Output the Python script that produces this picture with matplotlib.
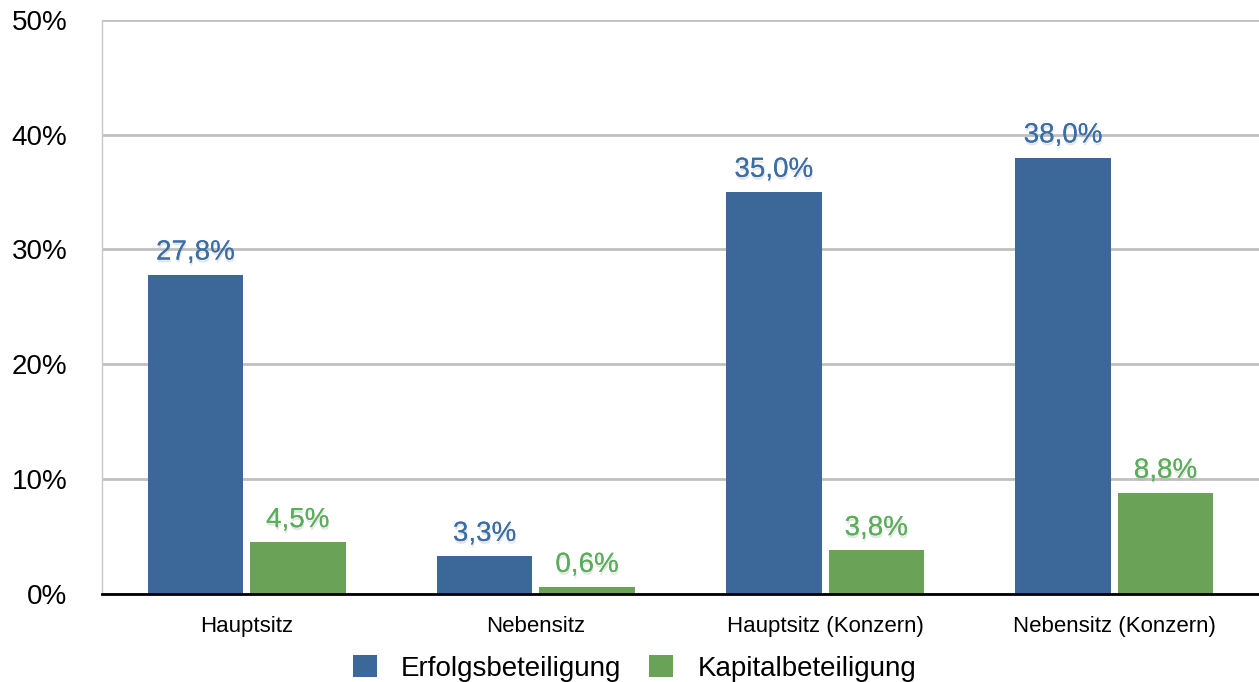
import matplotlib
matplotlib.use("Agg")
import matplotlib.pyplot as plt
import matplotlib.patheffects as pe
import numpy as np

categories = ["Hauptsitz", "Nebensitz", "Hauptsitz (Konzern)", "Nebensitz (Konzern)"]
erfolg = [27.8, 3.3, 35.0, 38.0]
kapital = [4.5, 0.6, 3.8, 8.8]
series_names = ["Erfolgsbeteiligung", "Kapitalbeteiligung"]
yticks = [0, 10, 20, 30, 40, 50]

blue = "#3b6898"
green = "#6aa358"
blue_txt = "#3a6ea6"
green_txt = "#5aae5a"

plt.rcParams["font.family"] = ["Liberation Sans", "DejaVu Sans"]

fig = plt.figure(figsize=(12.59, 6.82), dpi=100)
ax = fig.add_axes([0.081, 0.129, 0.919, 0.842])

x = np.arange(len(categories))
w = 0.33
off = 0.177
b1 = ax.bar(x - off, erfolg, w, color=blue, label=series_names[0], zorder=3)
b2 = ax.bar(x + off, kapital, w, color=green, label=series_names[1], zorder=3)

shadow = [pe.withSimplePatchShadow(offset=(0.5, -2), shadow_rgbFace="#aaaaaa", alpha=0.3), pe.Normal()]

def fmt(v):
    return f"{v:.1f}".replace(".", ",") + "%"

# value labels above the bars
for xi, v in zip(x - off, erfolg):
    ax.text(xi, v + 0.8, fmt(v), ha="center", va="bottom", fontsize=20,
            color=blue_txt, path_effects=shadow, zorder=4)
for xi, v in zip(x + off, kapital):
    ax.text(xi, v + 0.8, fmt(v), ha="center", va="bottom", fontsize=20,
            color=green_txt, path_effects=shadow, zorder=4)

ax.set_xlim(-0.5, 3.5)
ax.set_ylim(0, 50)
ax.set_yticks(yticks)
ax.set_yticklabels([f"{t}%" for t in yticks], fontsize=20)
ax.set_xticks(x)
ax.set_xticklabels(categories, fontsize=16)
ax.tick_params(axis="both", length=0)
ax.tick_params(axis="y", pad=25)
ax.tick_params(axis="x", pad=16)

ax.grid(axis="y", color="#c0c0c0", linewidth=2, zorder=0)
ax.spines["top"].set_visible(False)
ax.spines["right"].set_visible(False)
ax.spines["left"].set_color("#c8c8c8")
ax.spines["left"].set_linewidth(1)
ax.spines["bottom"].set_color("black")
ax.spines["bottom"].set_linewidth(2)
ax.spines["bottom"].set_zorder(5)

fig.legend(handles=[b1, b2], loc="lower center", bbox_to_anchor=(0.504, -0.036), ncol=2,
           frameon=False, fontsize=20, handlelength=0.87, handleheight=0.87,
           columnspacing=1.0, handletextpad=0.86)

fig.savefig("out.png", dpi=100)
